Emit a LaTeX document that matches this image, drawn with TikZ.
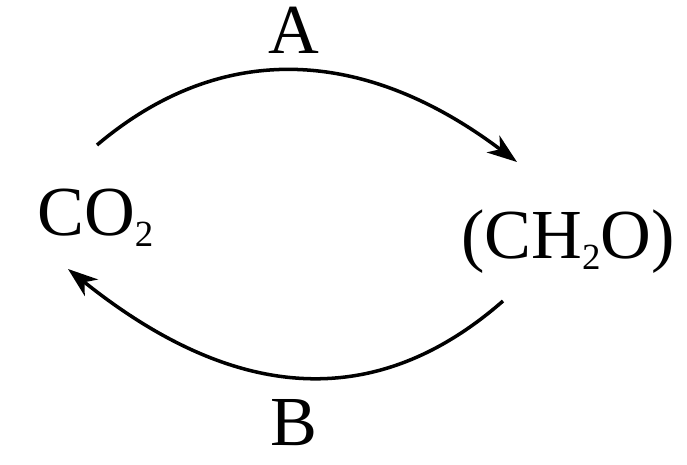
\documentclass[tikz,border=0pt]{standalone}
\usepackage{fontspec}
\setmainfont{Liberation Serif}
\usetikzlibrary{arrows.meta}
\newcommand\chemsub[1]{\raisebox{-6.8pt}{\fontsize{21}{21}\selectfont #1}}

\begin{document}
\begin{tikzpicture}[x=0.02cm,y=-0.02cm,
  lbl/.style={inner sep=0pt,anchor=base,font=\fontsize{40}{48}\selectfont},
  cyc/.style={line width=2pt,-{Stealth[length=17pt,width=12pt,inset=5pt]}}]
  \useasboundingbox (0,0) rectangle (687,464);
  \node[lbl,anchor=base west] (co2) at (37,235) {CO\chemsub{2}};
  \node[lbl] (ch2o) at (568,258) {(CH\chemsub{2}O)};
  \node[lbl] (a) at (294,53) {A};
  \node[lbl] (b) at (294,445) {B};
  % free ends of the two arcs
  \coordinate (topS) at (97,145);
  \coordinate (topE) at (517,162);
  \coordinate (botS) at (503,301);
  \coordinate (botE) at (68,269);
  \draw[cyc] (topS) .. controls (226,36) and (370,51) .. (topE);
  \draw[cyc] (botS) .. controls (375,413) and (234,402) .. (botE);
\end{tikzpicture}
\end{document}
